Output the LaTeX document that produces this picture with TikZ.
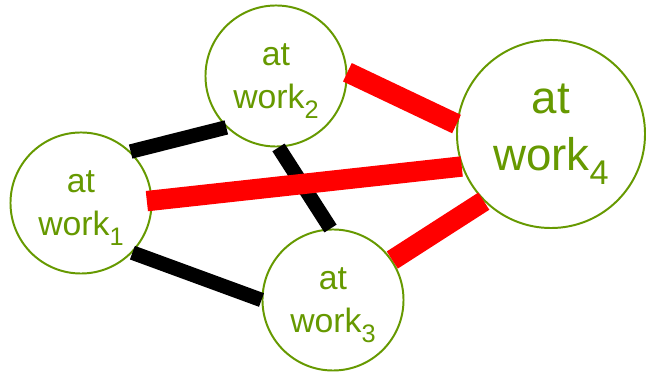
\documentclass[tikz,border=0pt]{standalone}
\usepackage{fontspec}
\setmainfont{Liberation Sans}
\usepackage{graphicx}
\usepackage{tikz}

\definecolor{verde}{RGB}{102,153,0}
\newcommand{\idx}[1]{\smash{\raisebox{-0.3em}{\scalebox{0.75}{#1}}}}

\tikzset{
  posto/.style={circle, draw=verde, line width=1.4pt, fill=white, text=verde,
    align=center, inner sep=0pt, minimum size=3.525cm,
    font=\fontsize{24}{30.5}\selectfont},
  postogrande/.style={posto, minimum size=4.7cm, text depth=9.5pt,
    font=\fontsize{32.5}{41}\selectfont},
  preta/.style={line width=10.3pt, black},
  vermelha/.style={line width=14.5pt, red}
}

\begin{document}
\begin{tikzpicture}[x=0.025cm, y=-0.025cm]
  \useasboundingbox (0,0) rectangle (646,372);

  % Postos de trabalho
  \node[posto] (w1) at (81,203) {at\\work\idx{1}};
  \node[posto] (w2) at (276,76) {at\\work\idx{2}};
  \node[posto] (w3) at (333,300) {at\\work\idx{3}};
  \node[postogrande] (w4) at (551,134) {at\\work\idx{4}};

  % Ligacoes pretas
  \draw[preta] (w1.46) -- (w2.226);
  \draw[preta] (w1.316) -- (w3.180);
  \draw[preta] (w2.272) -- (w3.92);

  % Ligacoes vermelhas
  \draw[vermelha, shorten <=-4pt] (w1.2) -- (w4.200);
  \draw[vermelha] (w2.3) -- (w4.174);
  \draw[vermelha] (w3.34) -- (w4.225);
\end{tikzpicture}
\end{document}
